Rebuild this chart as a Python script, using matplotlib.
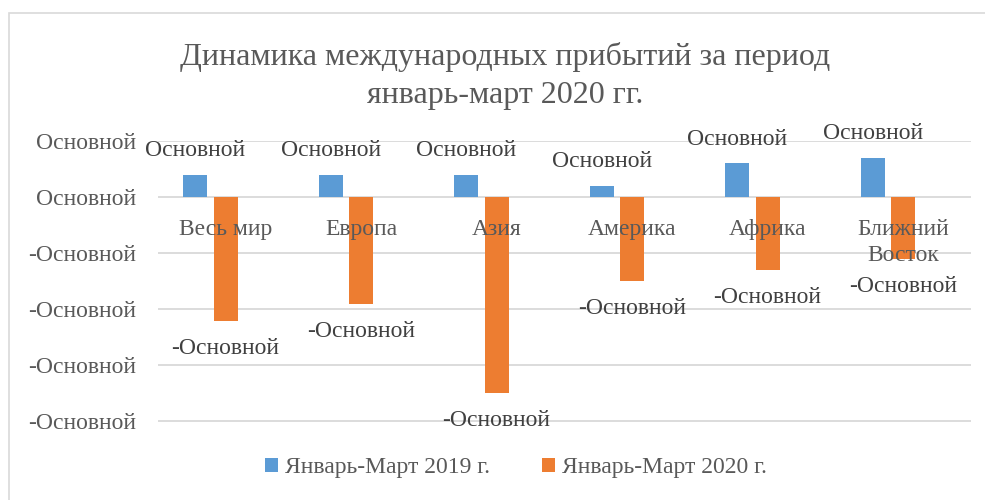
import matplotlib.pyplot as plt
import numpy as np
from matplotlib.patches import Rectangle
from matplotlib.ticker import FuncFormatter

plt.rcParams['font.family'] = ['Liberation Serif', 'DejaVu Serif']

# значения в %
regions = ['Весь мир', 'Европа', 'Азия', 'Америка', 'Африка', 'Ближний\nВосток']
arrivals_2019 = [4, 4, 4, 2, 6, 7]
arrivals_2020 = [-22, -19, -35, -15, -13, -11]
series_names = ['Январь-Март 2019 г.', 'Январь-Март 2020 г.']
colors = ['#5B9BD5', '#ED7D31']
yticks = [10, 0, -10, -20, -30, -40]


def excel_label(v):
	# excel "Основной" number format shows up literally
	return '-Основной' if v < 0 else 'Основной'


fig = plt.figure(figsize=(9.85, 5.0), dpi=100)
ax = fig.add_axes([158 / 985, 1 - 421.5 / 500, 813 / 985, 280.5 / 500])

x = np.arange(len(regions))
shift = -0.113
half = 0.112
w = 0.176
ax.bar(x + shift - half, arrivals_2019, w, color=colors[0], label=series_names[0], zorder=3)
ax.bar(x + shift + half, arrivals_2020, w, color=colors[1], label=series_names[1], zorder=3)

for i in range(len(regions)):
	ax.annotate(excel_label(arrivals_2019[i]), xy=(x[i] + shift - half, arrivals_2019[i]),
	            xytext=(0, 24), textcoords='offset pixels', ha='center', va='center',
	            fontsize=17, color='#404040')
	ax.annotate(excel_label(arrivals_2020[i]), xy=(x[i] + shift + half, arrivals_2020[i]),
	            xytext=(0, -27.5), textcoords='offset pixels', ha='center', va='center',
	            fontsize=17, color='#404040')
	ax.annotate(regions[i], xy=(x[i], 0), xytext=(0, -22), textcoords='offset pixels',
	            ha='center', va='top', fontsize=17, color='#595959', zorder=4,
	            linespacing=1.3)

ax.set_xlim(-0.5, len(regions) - 0.5)
ax.set_ylim(-40, 10)
ax.set_yticks(yticks)
ax.yaxis.set_major_formatter(FuncFormatter(lambda v, p: excel_label(v)))
ax.set_xticks([])
ax.tick_params(axis='y', length=0, pad=16, labelsize=17, labelcolor='#595959')
ax.grid(axis='y', color='#d9d9d9', linewidth=1.3, zorder=0)
for s in ax.spines.values():
	s.set_visible(False)

fig.text(505 / 985, 1 - 76 / 500, 'Динамика международных прибытий за период\nянварь-март 2020 гг.',
         ha='center', va='center', fontsize=23, color='#595959', linespacing=1.4)

fig.legend(loc='center', bbox_to_anchor=(516 / 985, 1 - 468 / 500), ncol=2, frameon=False,
           fontsize=17, handlelength=0.55, handleheight=0.55, handletextpad=0.3,
           columnspacing=2.2, labelcolor='#595959')

fig.patches.append(Rectangle((9 / 985, -0.1), 1.2, 0.974 + 0.1, transform=fig.transFigure,
                             fill=False, edgecolor='#d9d9d9', linewidth=1.2))

fig.savefig('out.png', dpi=100)
